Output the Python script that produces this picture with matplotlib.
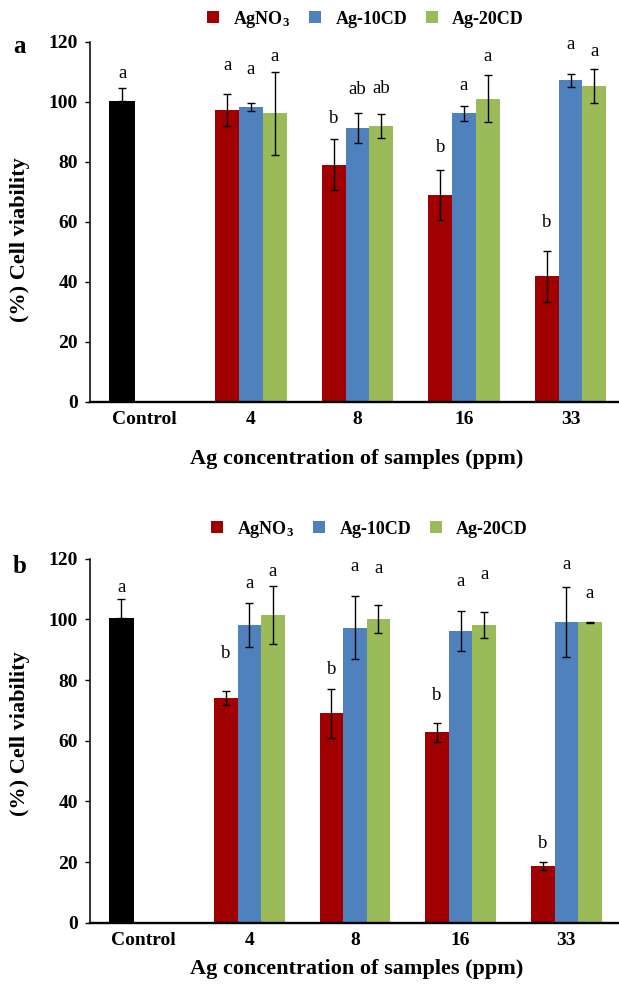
import matplotlib
matplotlib.use("Agg")
import matplotlib.pyplot as plt
import numpy as np

plt.rcParams['font.family'] = ['Liberation Serif', 'DejaVu Serif']
plt.rcParams['mathtext.fontset'] = 'custom'
plt.rcParams['mathtext.rm'] = 'Liberation Serif:bold'
plt.rcParams['mathtext.bf'] = 'Liberation Serif:bold'
plt.rcParams['mathtext.default'] = 'bf'

# data
categories = ['Control', '4', '8', '16', '33']
series = ['AgNO$_3$', 'Ag-10CD', 'Ag-20CD']
colors = ['#a00000', '#4f81bd', '#9bbb59']

# panel a
ctrl_a, ctrl_err_a = 100.2, 4.6
agno3_a = [97.3, 79.1, 69.0, 41.8]
agno3_err_a = [5.4, 8.5, 8.3, 8.5]
ag10_a = [98.3, 91.3, 96.2, 107.2]
ag10_err_a = [1.3, 5.1, 2.6, 2.1]
ag20_a = [96.2, 91.9, 101.1, 105.3]
ag20_err_a = [13.9, 4.0, 7.8, 5.8]
ctrl_let_a = 'a'
letters_a = [['a', 'b', 'b', 'b'],
             ['a', 'ab', 'a', 'a'],
             ['a', 'ab', 'a', 'a']]
# label heights (annotation placement)
ctrl_let_y_a = 109.5
letters_y_a = [[112.3, 94.6, 84.9, 59.9],
               [110.9, 104.0, 105.5, 119.0],
               [115.1, 104.6, 115.1, 116.8]]

# panel b
ctrl_b, ctrl_err_b = 100.5, 6.3
agno3_b = [74.1, 69.0, 62.8, 18.6]
agno3_err_b = [2.4, 8.2, 3.1, 1.3]
ag10_b = [98.2, 97.3, 96.2, 99.1]
ag10_err_b = [7.2, 10.3, 6.6, 11.6]
ag20_b = [101.4, 100.2, 98.2, 99.1]
ag20_err_b = [9.5, 4.7, 4.4, 0.2]
ctrl_let_b = 'a'
letters_b = [['b', 'b', 'b', 'b'],
             ['a', 'a', 'a', 'a'],
             ['a', 'a', 'a', 'a']]
ctrl_let_y_b = 110.6
letters_y_b = [[88.7, 83.4, 74.8, 26.2],
               [112.0, 117.5, 112.5, 118.0],
               [115.8, 116.7, 114.8, 108.7]]

W, H = 619, 985
fig = plt.figure(figsize=(W / 100, H / 100), dpi=100)

BW = 0.2225          # bar width in category units
CTRL_OFF, CTRL_W = -0.209, 0.242


def draw_panel(rect, xlim, ctrl, ctrl_err, vals, errs, letters, letters_y,
               ctrl_let, ctrl_let_y):
    ax = fig.add_axes(rect)
    x = np.arange(1, len(categories))
    ax.bar(CTRL_OFF, ctrl, width=CTRL_W, color='black', zorder=2)
    ax.errorbar(CTRL_OFF, ctrl, yerr=[[0], [ctrl_err]], fmt='none',
                ecolor='black', elinewidth=1.0, capsize=3.2, capthick=1.0,
                zorder=3)
    ax.text(CTRL_OFF, ctrl_let_y, ctrl_let, ha='center', va='center',
            fontsize=13.5, clip_on=False)
    for k in range(3):
        xs = x + (k - 1) * BW
        ax.bar(xs, vals[k], width=BW, color=colors[k], label=series[k],
               zorder=2)
        ax.errorbar(xs, vals[k], yerr=errs[k], fmt='none', ecolor='black',
                    elinewidth=1.0, capsize=3.2, capthick=1.0, zorder=3)
        for xi, t, yi in zip(xs, letters[k], letters_y[k]):
            ax.text(xi, yi, t, ha='center', va='center', fontsize=13.5,
                    clip_on=False)

    ax.set_xlim(*xlim)
    ax.set_ylim(0, 120)
    ax.set_yticks(np.arange(0, 121, 20))
    ax.set_xticks(np.arange(len(categories)))
    ax.set_xticklabels(categories)
    for lab in ax.get_xticklabels() + ax.get_yticklabels():
        lab.set_fontweight('bold')
        lab.set_fontsize(14)
    ax.tick_params(axis='x', length=0, pad=7)
    ax.tick_params(axis='y', length=3.6, width=1.0, pad=5)
    ax.spines['top'].set_visible(False)
    ax.spines['right'].set_visible(False)
    ax.spines['left'].set_linewidth(1.1)
    ax.spines['bottom'].set_linewidth(1.7)
    ax.spines['bottom'].set_zorder(4)
    return ax


ax_a = draw_panel([90 / W, 1 - 401.7 / H, (W - 90) / W, 359.7 / H],
                  (-0.512, 4.455), ctrl_a, ctrl_err_a,
                  [agno3_a, ag10_a, ag20_a],
                  [agno3_err_a, ag10_err_a, ag20_err_a],
                  letters_a, letters_y_a, ctrl_let_a, ctrl_let_y_a)
ax_b = draw_panel([90 / W, 1 - 922.7 / H, (W - 90) / W, 363.9 / H],
                  (-0.507, 4.498), ctrl_b, ctrl_err_b,
                  [agno3_b, ag10_b, ag20_b],
                  [agno3_err_b, ag10_err_b, ag20_err_b],
                  letters_b, letters_y_b, ctrl_let_b, ctrl_let_y_b)

for ax, lx, ly in [(ax_a, 207, 19), (ax_b, 211, 529)]:
    h, l = ax.get_legend_handles_labels()
    fig.legend(h, l, loc='center left', bbox_to_anchor=(lx / W, 1 - ly / H),
               ncol=3, frameon=False, borderpad=0, borderaxespad=0,
               handlelength=0.65, handleheight=0.65, handletextpad=0.8,
               columnspacing=1.05, prop={'weight': 'bold', 'size': 13})

# axis titles and panel letters
for yl, xl, pl, py in [(240, 459, 'a', 46.7), (734, 969, 'b', 566.7)]:
    fig.text(20 / W, 1 - yl / H, '(%) Cell viability', rotation=90,
             ha='center', va='center', fontsize=16, fontweight='bold')
    fig.text(357 / W, 1 - xl / H, 'Ag concentration of samples (ppm)',
             ha='center', va='center', fontsize=16, fontweight='bold')
    fig.text(19.5 / W, 1 - py / H, pl, ha='center', va='center',
             fontsize=18, fontweight='bold')

fig.savefig('out.png', dpi=100)
